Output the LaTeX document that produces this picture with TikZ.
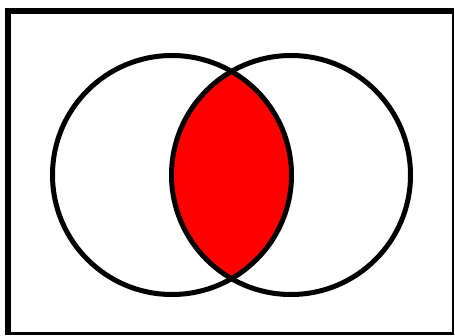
\documentclass[tikz,border=0pt]{standalone}
\begin{document}
\begin{tikzpicture}[x=1pt,y=-1pt,
  ring/.style={draw=black,line width=5pt},
  framebar/.style={fill=black,draw=none}]
\useasboundingbox (0,0) rectangle (455,335);
\fill[white] (0,0) rectangle (455,335);
% frame
\path[framebar] (5,8) rectangle (11,335);
\path[framebar] (5,8) rectangle (454,14);
\path[framebar] (451.5,8) rectangle (454,335);
\path[framebar] (5,332) rectangle (454,335);
% lens
\coordinate (A) at (172,175);
\coordinate (B) at (291,175);
\begin{scope}
  \clip (A) circle (119.5);
  \fill[red] (B) circle (119.5);
\end{scope}
\draw[ring] (A) circle (119.5);
\draw[ring] (B) circle (119.5);
\end{tikzpicture}
\end{document}
